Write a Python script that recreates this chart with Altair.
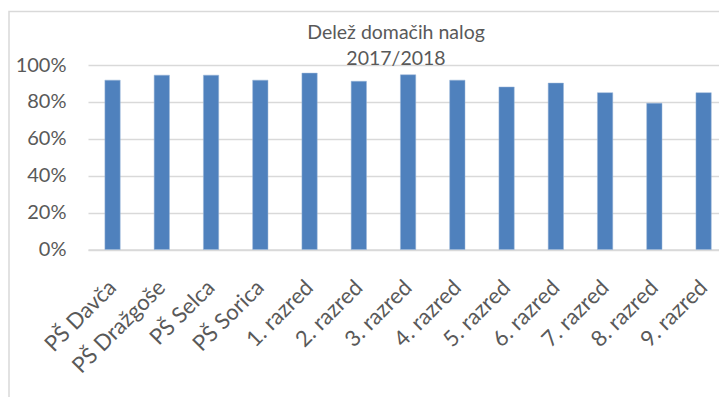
import altair as alt
import pandas as pd

categories = ["PŠ Davča", "PŠ Dražgoše", "PŠ Selca", "PŠ Sorica", "1. razred", "2. razred",
              "3. razred", "4. razred", "5. razred", "6. razred", "7. razred", "8. razred", "9. razred"]
values = [0.918, 0.945, 0.945, 0.918, 0.956, 0.912, 0.947, 0.918, 0.881, 0.902, 0.850, 0.793, 0.850]
title_lines = ["Delež domačih nalog", "2017/2018"]
y_ticks = [0, 0.2, 0.4, 0.6, 0.8, 1.0]

df = pd.DataFrame({"kategorija": categories, "delez": values})

FONT = "Lato"
GRAY = "#595959"
GRID = "#d9d9d9"

bars = alt.Chart(df).mark_bar(color="#4f81bd", stroke="#9bb7d9", strokeWidth=0.5).encode(
    x=alt.X("kategorija:N", sort=categories, title=None,
            scale=alt.Scale(paddingInner=0.689, paddingOuter=0.25, align=0.686, round=False),
            axis=alt.Axis(labelAngle=-45, ticks=False, labelPadding=27, labelOffset=-7,
                          domainColor=GRID, domainWidth=1.5, labelFont=FONT, labelFontSize=22,
                          labelColor=GRAY)),
    y=alt.Y("delez:Q", title=None, scale=alt.Scale(domain=[0, 1], nice=False),
            axis=alt.Axis(values=y_ticks, format="%", ticks=False, domain=False, labelPadding=22,
                          gridColor=GRID, gridWidth=1.5, labelFont=FONT, labelFontSize=20,
                          labelColor=GRAY)),
)

frame = alt.Chart(pd.DataFrame({"a": [0]})).mark_rect(
    fill=None, stroke=GRID, strokeWidth=1.5
).encode(
    x=alt.value(-79), x2=alt.value(700), y=alt.value(-53.5), y2=alt.value(400)
)

chart = alt.layer(frame, bars).properties(
    width=631, height=184.5,
    padding={"left": 80, "top": 57, "right": 0, "bottom": 147},
    autosize=alt.AutoSizeParams(type="none"),
    title=alt.TitleParams(text=title_lines, font=FONT, fontSize=19.5, fontWeight="normal",
                          color=GRAY, anchor="middle", dx=-7.5, lineHeight=26, offset=-59),
    background="white",
).configure_view(stroke=None)

chart.save("out.html", embed_options={"renderer": "svg", "actions": False})
